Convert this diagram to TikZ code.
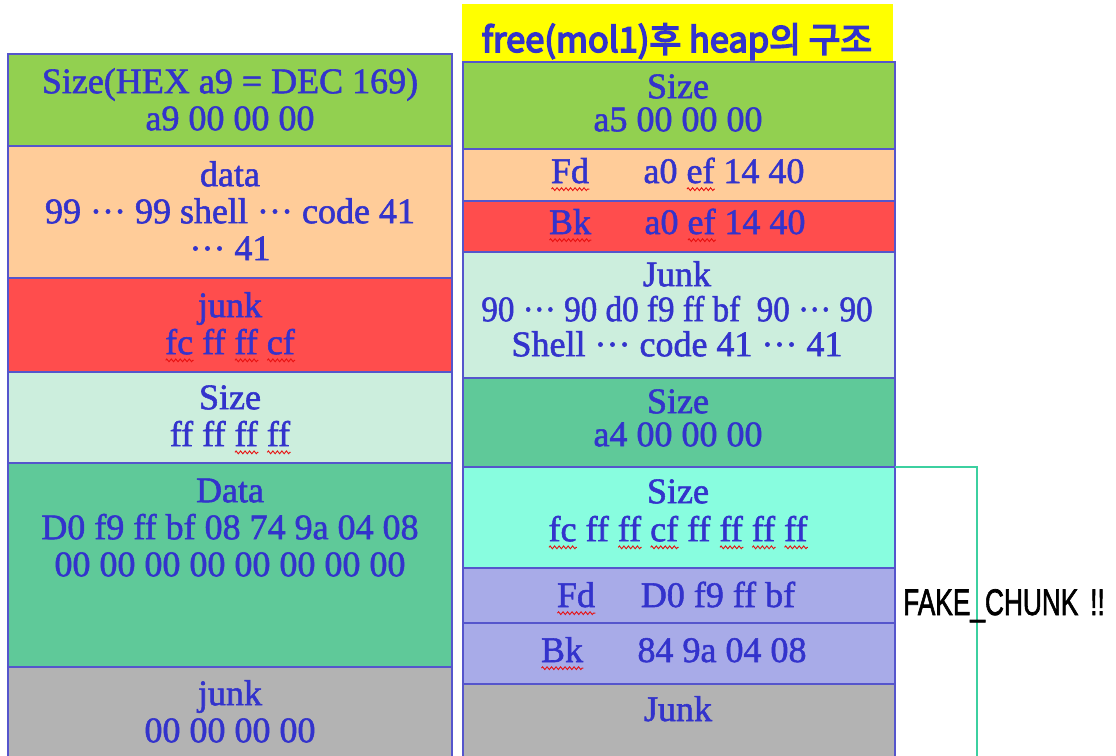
\documentclass[tikz,border=0pt]{standalone}
\usepackage{fontspec}
\usetikzlibrary{decorations.pathmorphing}
\setmainfont{Liberation Serif}[FakeBold=1.5]
\newfontfamily\titlefont[FakeBold=4.5]{Noto Sans CJK KR}
\newfontfamily\labelfont[FakeBold=2]{Liberation Sans}

\definecolor{cgreen}{HTML}{92D050}
\definecolor{cpeach}{HTML}{FFCC99}
\definecolor{cred}{HTML}{FF4D4D}
\definecolor{cmint}{HTML}{CCEEDD}
\definecolor{cmed}{HTML}{5FC999}
\definecolor{cgray}{HTML}{B3B3B3}
\definecolor{caqua}{HTML}{88FDDF}
\definecolor{clav}{HTML}{A8ABE8}
\definecolor{cellline}{HTML}{5555CC}
\definecolor{txtblue}{HTML}{3333CC}
\definecolor{bracketc}{HTML}{3CD0A0}
\definecolor{titlebg}{HTML}{FFFF00}
\definecolor{squiggle}{HTML}{E81010}

% red wavy underline for flagged words
\newlength\wvlen
\newcommand\wv[1]{\settowidth\wvlen{#1}%
  \rlap{\raisebox{-8pt}{\tikz[x=1pt,y=1pt]\draw[squiggle, line width=0.9pt, decorate,
    decoration={zigzag, amplitude=1.4pt, segment length=4.5pt}] (0,0) -- (\wvlen,0);}}#1}
% fixed first-line height so text nodes can be placed by baseline
\newcommand\fl{\rule{0pt}{27pt}}
% ellipsis set at mid height
\newcommand\md{\raisebox{0.28em}[0.4em][0pt]{…}}

\begin{document}
\begin{tikzpicture}[x=1pt,y=-1pt,
  cell/.style={draw=cellline, line width=1.6pt, anchor=north west, outer sep=0pt, inner sep=0pt},
  txt/.style={text=txtblue, inner sep=0pt, align=center, font=\fontsize{36}{37}\selectfont},
  rtxt/.style={txt, font=\fontsize{36}{35}\selectfont},
  bracket/.style={draw=bracketc, line width=1.4pt}]
\useasboundingbox (0,0) rectangle (1116,755);

% ---- left column: chunk before free ----
\node[cell, fill=cgreen, minimum width=444pt, minimum height=92pt]  (L1) at (8,54)  {};
\node[cell, fill=cpeach, minimum width=444pt, minimum height=132pt] (L2) at (8,146) {};
\node[cell, fill=cred,   minimum width=444pt, minimum height=94pt]  (L3) at (8,278) {};
\node[cell, fill=cmint,  minimum width=444pt, minimum height=91pt]  (L4) at (8,372) {};
\node[cell, fill=cmed,   minimum width=444pt, minimum height=204pt] (L5) at (8,463) {};
\node[cell, fill=cgray,  minimum width=444pt, minimum height=100pt] (L6) at (8,667) {};

\node[txt, anchor=north] (tL1) at (230,66)  {\fl Size(HEX a9 = DEC 169)\\ a9 00 00 00};
\node[txt, anchor=north] (tL2) at (230,159) {\fl data\\ 99 \md{} 99 shell \md{} code 41\\ \md{} 41};
\node[txt, anchor=north] (tL3) at (230,290) {\fl junk\\ \wv{fc} ff \wv{ff} \wv{cf}};
\node[txt, anchor=north] (tL4) at (230,382) {\fl Size\\ ff ff \wv{ff} \wv{ff}};
\node[txt, anchor=north] (tL5) at (230,475) {\fl Data\\ D0 f9 ff bf 08 74 9a 04 08\\ 00 00 00 00 00 00 00 00};
\node[txt, anchor=north] (tL6) at (230,678) {\fl junk\\ 00 00 00 00};

% ---- right column: heap after free ----
\node[cell, draw=none, fill=titlebg, minimum width=431pt, minimum height=58pt] (T) at (462,4) {};
\node[text=txtblue, anchor=base, inner sep=0pt, font=\titlefont\fontsize{34.5}{34.5}\selectfont] (title) at (677,52) {free(mol1)후 heap의 구조};

\node[cell, fill=cgreen, minimum width=432pt, minimum height=87pt]  (R1) at (463,62)  {};
\node[cell, fill=cpeach, minimum width=432pt, minimum height=52pt]  (R2) at (463,149) {};
\node[cell, fill=cred,   minimum width=432pt, minimum height=51pt]  (R3) at (463,201) {};
\node[cell, fill=cmint,  minimum width=432pt, minimum height=126pt] (R4) at (463,252) {};
\node[cell, fill=cmed,   minimum width=432pt, minimum height=89pt]  (R5) at (463,378) {};
\node[cell, fill=caqua,  minimum width=432pt, minimum height=101pt] (R6) at (463,467) {};
\node[cell, fill=clav,   minimum width=432pt, minimum height=55pt]  (R7) at (463,568) {};
\node[cell, fill=clav,   minimum width=432pt, minimum height=61pt]  (R8) at (463,623) {};
\node[cell, fill=cgray,  minimum width=432pt, minimum height=83pt]  (R9) at (463,684) {};

\node[rtxt, anchor=north, font=\fontsize{36}{33}\selectfont] (tR1) at (678,71) {\fl Size\\ a5 00 00 00};
\node[rtxt, anchor=base] (fd1)  at (570,183) {\wv{Fd}};
\node[rtxt, anchor=base] (fd1v) at (724,183) {a0 \wv{ef} 14 40};
\node[rtxt, anchor=base] (bk1)  at (570,234) {\wv{Bk}};
\node[rtxt, anchor=base] (bk1v) at (725,234) {a0 \wv{ef} 14 40};
\node[rtxt, anchor=north] (tR4) at (677,259) {\fl Junk\\ \scalebox{0.92}[1]{90 \md{} 90 d0 f9 ff bf\enspace 90 \md{} 90}\\ Shell \md{} code 41 \md{} 41};
\node[rtxt, anchor=north, font=\fontsize{36}{33}\selectfont] (tR5) at (678,386) {\fl Size\\ a4 00 00 00};
\node[rtxt, anchor=north, font=\fontsize{36}{38}\selectfont] (tR6) at (678,476) {\fl Size\\ \wv{fc} ff \wv{ff} \wv{cf} ff \wv{ff} \wv{ff} \wv{ff}};
\node[rtxt, anchor=base] (fd2)  at (576,607) {\wv{Fd}};
\node[rtxt, anchor=base] (fd2v) at (718,607) {D0 f9 ff bf};
\node[rtxt, anchor=base] (bk2)  at (562,662) {\wv{Bk}};
\node[rtxt, anchor=base] (bk2v) at (722,662) {84 9a 04 08};
\node[rtxt, anchor=base] (tR9)  at (678,721) {Junk};

% ---- fake chunk bracket ----
\coordinate (bra) at (977,467);
\coordinate (brb) at (977,760);
\draw[bracket] (R5.south east) -- (bra) -- (brb);
\node[anchor=base west, inner sep=0pt, font=\labelfont\fontsize{37}{37}\selectfont] (fake) at (903,615)
  {\scalebox{0.71}[1]{FAKE\_CHUNK\hspace{0.45em}!!}};
\end{tikzpicture}
\end{document}
